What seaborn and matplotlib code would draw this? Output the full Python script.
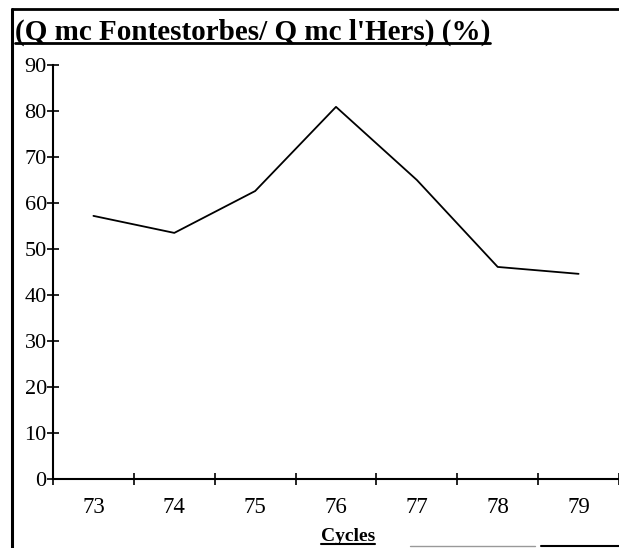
import matplotlib
matplotlib.use("Agg")
import matplotlib.pyplot as plt
import seaborn as sns
import pandas as pd
from matplotlib.lines import Line2D

# Data
cycles = [73, 74, 75, 76, 77, 78, 79]
ratio = [57.2, 53.5, 62.6, 80.9, 65.0, 46.1, 44.6]
yticks = [0, 10, 20, 30, 40, 50, 60, 70, 80, 90]

df = pd.DataFrame({"cycle": cycles, "ratio": ratio})

sns.set_theme(style="white")
plt.rcParams["font.family"] = ["Liberation Serif", "DejaVu Serif"]
plt.rcParams["text.color"] = "black"
plt.rcParams["xtick.color"] = "black"
plt.rcParams["ytick.color"] = "black"

W, H = 619, 548
fig = plt.figure(figsize=(W / 100, H / 100), dpi=100)
ax = fig.add_axes([53 / W, 1 - 479 / H, (619 - 53) / W, (479 - 65) / H])

sns.lineplot(data=df, x="cycle", y="ratio", ax=ax, color="black", linewidth=1.3)

ax.set_xlim(72.5, 79.5)
ax.set_ylim(0, 90)

# category axis: ticks on the boundaries, labels in the middle
ax.set_xticks([c - 0.5 for c in cycles] + [cycles[-1] + 0.5])
ax.set_xticklabels([])
ax.set_xticks(cycles, minor=True)
ax.set_xticklabels([str(c) for c in cycles], minor=True, fontsize=16.5)
ax.tick_params(axis="x", which="major", bottom=True, direction="inout", length=9, width=1.2, color="black")
ax.tick_params(axis="x", which="minor", bottom=True, length=0, pad=13)

ax.set_yticks(yticks)
ax.set_yticklabels([str(v) for v in yticks], fontsize=16)
ax.tick_params(axis="y", left=True, direction="inout", length=9, width=1.2, color="black", pad=0)

for s in ["top", "right"]:
    ax.spines[s].set_visible(False)
for s in ["left", "bottom"]:
    ax.spines[s].set_color("black")
    ax.spines[s].set_linewidth(1.5)
ax.set_xlabel("")
ax.set_ylabel("")

# title and axis name, bold and underlined
title = fig.text(15 / W, 1 - 40 / H, "(Q mc Fontestorbes/ Q mc l'Hers) (%)",
                 fontsize=21, fontweight="bold", va="baseline", ha="left")
xname = fig.text(348 / W, 1 - 541 / H, "Cycles", fontsize=14, fontweight="bold",
                 va="baseline", ha="center")

fig.canvas.draw()
r = fig.canvas.get_renderer()
inv = fig.transFigure.inverted()
for t, dy, lw in [(title, 3, 2.0), (xname, 3, 1.5)]:
    bb = t.get_window_extent(r)
    x0, _ = inv.transform((bb.x0, 0))
    x1, _ = inv.transform((bb.x1, 0))
    _, yb = t.get_position()
    yl = yb - dy / H
    fig.add_artist(Line2D([x0, x1], [yl, yl], transform=fig.transFigure, color="black", lw=lw))

# scanned frame around the chart
fig.add_artist(Line2D([12 / W, 12 / W], [0, 1 - 9 / H], transform=fig.transFigure, color="black", lw=2.2))
fig.add_artist(Line2D([12 / W, 1], [1 - 9 / H, 1 - 9 / H], transform=fig.transFigure, color="black", lw=2.0))
fig.add_artist(Line2D([410 / W, 535 / W], [1 - 546 / H] * 2, transform=fig.transFigure, color="#999999", lw=1.0))
fig.add_artist(Line2D([541 / W, 1], [1 - 546 / H] * 2, transform=fig.transFigure, color="black", lw=1.5))

fig.savefig("out.png", dpi=100)
